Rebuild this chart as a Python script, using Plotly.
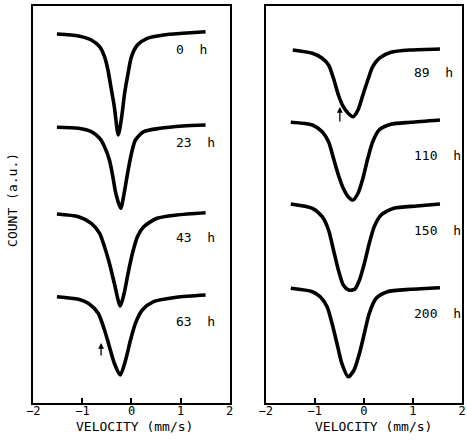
import plotly.graph_objects as go
from plotly.subplots import make_subplots

# Mössbauer spectra recorded after increasing ageing times (counts in a.u., stacked)
v_0h = [-1.52, -1.08, -0.82, -0.65, -0.55, -0.48, -0.42, -0.35, -0.27, -0.20, -0.14, -0.07, 0.00, 0.12, 0.32, 0.65, 1.05, 1.51]
c_0h = [369, 367, 363, 356.3, 346.3, 333, 316.3, 296.3, 268, 286.3, 309.7, 329.7, 346.3, 358, 364.7, 368, 369.7, 371.3]

v_23h = [-1.52, -1.08, -0.82, -0.65, -0.55, -0.45, -0.38, -0.32, -0.22, -0.15, -0.08, 0.00, 0.08, 0.25, 0.58, 1.05, 1.51]
c_23h = [275.7, 274.7, 271.3, 264.7, 256.3, 243, 226.3, 209.7, 194.7, 209.7, 229.7, 249.7, 263, 271.3, 274.7, 277, 278]

v_43h = [-1.52, -1.08, -0.82, -0.65, -0.55, -0.45, -0.35, -0.23, -0.15, -0.07, 0.02, 0.12, 0.25, 0.52, 0.92, 1.51]
c_43h = [189, 186.3, 179.7, 169.7, 156.3, 139.7, 119.7, 97, 109.7, 129.7, 149.7, 166.3, 176.3, 184.7, 188, 190.3]

v_63h = [-1.52, -1.08, -0.88, -0.68, -0.55, -0.45, -0.35, -0.23, -0.12, -0.02, 0.08, 0.22, 0.45, 0.92, 1.51]
c_63h = [106.3, 103.7, 99.7, 89.7, 73, 56.3, 39.7, 28, 43, 63, 79.7, 93, 101.3, 105.7, 108]

v_89h = [-1.45, -1.05, -0.85, -0.72, -0.62, -0.52, -0.42, -0.32, -0.22, -0.12, -0.02, 0.08, 0.18, 0.31, 0.55, 0.95, 1.55]
c_89h = [353, 349.7, 344.7, 338, 324.7, 308, 296.3, 289.7, 286.3, 293, 308, 323, 336.3, 344.7, 350.7, 353, 354]

v_110h = [-1.49, -1.05, -0.85, -0.72, -0.62, -0.52, -0.42, -0.32, -0.22, -0.12, -0.02, 0.08, 0.18, 0.31, 0.55, 0.95, 1.55]
c_110h = [280.7, 278, 271.3, 261.3, 244.7, 228, 214.7, 206.3, 203, 209.7, 224.7, 244.7, 261.3, 273, 278.7, 280.7, 283]

v_150h = [-1.49, -1.05, -0.85, -0.72, -0.62, -0.52, -0.42, -0.31, -0.19, -0.09, 0.01, 0.11, 0.21, 0.35, 0.61, 1.08, 1.55]
c_150h = [199, 194.7, 186.3, 173, 153, 133, 118, 113, 113.7, 123, 139.7, 159.7, 176.3, 188, 194.7, 197, 199]

v_200h = [-1.49, -1.05, -0.89, -0.75, -0.65, -0.55, -0.45, -0.32, -0.20, -0.09, 0.01, 0.11, 0.25, 0.48, 0.95, 1.55]
c_200h = [114.7, 111.3, 106.3, 96.3, 79.7, 59.7, 39.7, 26.3, 33, 49.7, 69.7, 89.7, 104.7, 111.3, 113.7, 115.3]

left_labels = ["0 h", "23 h", "43 h", "63 h"]
right_labels = ["89 h", "110 h", "150 h", "200 h"]
tick_vals = [-2, -1, 0, 1, 2]
tick_text = ["\u22122", "\u22121", "0", "1", "2"]

# shoulder markers (velocity, count at arrow tail, count at arrow head)
arrow_63h = (-0.62, 46, 60)
arrow_89h = (-0.49, 280, 296)

FONT = "DejaVu Sans Mono"
W, H = 467, 440

fig = make_subplots(rows=1, cols=2)

left_set = [(v_0h, c_0h), (v_23h, c_23h), (v_43h, c_43h), (v_63h, c_63h)]
right_set = [(v_89h, c_89h), (v_110h, c_110h), (v_150h, c_150h), (v_200h, c_200h)]

for col, series in ((1, left_set), (2, right_set)):
    for vx, cy in series:
        fig.add_trace(
            go.Scatter(x=vx, y=cy, mode="lines",
                       line=dict(color="black", width=3.6, shape="spline", smoothing=0.7),
                       showlegend=False, hoverinfo="skip"),
            row=1, col=col,
        )

axis_common = dict(
    range=[-2, 2], tickvals=tick_vals, ticktext=tick_text,
    ticks="inside", ticklen=5, tickwidth=1.5, tickcolor="black",
    showline=True, linecolor="black", linewidth=1.6, mirror=True,
    showgrid=False, zeroline=False, ticklabelstandoff=-4,
    tickfont=dict(family=FONT, size=12, color="black"),
)
yaxis_common = dict(
    range=[0, 397], showticklabels=False, ticks="",
    showline=True, linecolor="black", linewidth=1.6, mirror=True,
    showgrid=False, zeroline=False,
)

fig.update_layout(
    width=W, height=H,
    margin=dict(l=0, r=0, t=0, b=0),
    paper_bgcolor="white", plot_bgcolor="white",
    xaxis=dict(domain=[27 / W, 228 / W], **axis_common),
    xaxis2=dict(domain=[265 / W, 466 / W], **axis_common),
    yaxis=dict(domain=[37 / H, 434 / H], **yaxis_common),
    yaxis2=dict(domain=[37 / H, 434 / H], **yaxis_common),
)


def spaced(label):
    # wide gap between the number and the unit
    return label.replace(" ", "\u00a0\u00a0")


annotations = []
left_label_y = [354, 261, 166, 82]
right_label_y = [331, 248, 173, 90]
for text, yy in zip(left_labels, left_label_y):
    annotations.append(dict(x=0.86, y=yy, xref="x", yref="y", text=spaced(text), showarrow=False,
                            xanchor="left", yanchor="middle",
                            font=dict(family=FONT, size=13, color="black")))
for text, yy in zip(right_labels, right_label_y):
    annotations.append(dict(x=0.98, y=yy, xref="x2", yref="y2", text=spaced(text), showarrow=False,
                            xanchor="left", yanchor="middle",
                            font=dict(family=FONT, size=13, color="black")))

for (av, tail, head), xr, yr in ((arrow_63h, "x", "y"), (arrow_89h, "x2", "y2")):
    annotations.append(dict(x=av, y=head, ax=av, ay=tail, xref=xr, yref=yr,
                            axref=xr, ayref=yr, text="", showarrow=True,
                            arrowhead=2, arrowsize=0.9, arrowwidth=1.3, arrowcolor="black"))

for xc in (131 / W, 375 / W):
    annotations.append(dict(x=xc, y=(H - 426) / H, xref="paper", yref="paper",
                            text="VELOCITY (mm/s)", showarrow=False,
                            xanchor="center", yanchor="middle",
                            font=dict(family=FONT, size=13, color="black")))

annotations.append(dict(x=5 / W, y=(H - 200) / H, xref="paper", yref="paper",
                        text="COUNT (a.u.)", textangle=-90, showarrow=False,
                        xanchor="center", yanchor="middle",
                        font=dict(family=FONT, size=13, color="black")))

fig.update_layout(annotations=annotations)

fig.write_html("out.html")
